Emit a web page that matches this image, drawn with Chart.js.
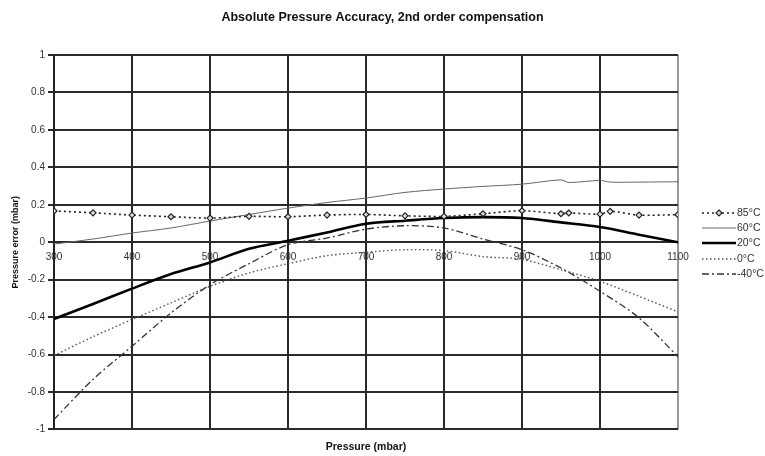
<!DOCTYPE html>
<html>
<head>
<meta charset="utf-8">
<script src="https://cdn.jsdelivr.net/npm/chart.js@4.4.1/dist/chart.umd.min.js"></script>
<style>
	html, body { margin: 0; padding: 0; background: #fff; }
</style>
</head>
<body>
<canvas id="mycanvas" width="765" height="456"></canvas>
<script>
// pressure points (mbar)
var pressure85 = [300, 350, 400, 450, 500, 550, 600, 650, 700, 750, 800, 850, 900, 950, 960, 1000, 1013, 1050, 1100];
var pressure = [300, 350, 400, 450, 500, 550, 600, 650, 700, 750, 800, 850, 900, 950, 1000, 1050, 1100];

// pressure error (mbar) per temperature
var err85 = [0.167, 0.157, 0.145, 0.136, 0.129, 0.138, 0.136, 0.145, 0.148, 0.141, 0.138, 0.152, 0.168, 0.152, 0.156, 0.150, 0.165, 0.145, 0.147];
var err60 = [-0.01, 0.017, 0.049, 0.076, 0.113, 0.148, 0.182, 0.212, 0.236, 0.266, 0.284, 0.298, 0.31, 0.333, 0.319, 0.33, 0.321, 0.321, 0.323];
var err20 = [-0.41, -0.33, -0.248, -0.17, -0.108, -0.035, 0.008, 0.052, 0.099, 0.115, 0.129, 0.134, 0.129, 0.106, 0.081, 0.04, 0.0];
var err0 = [-0.605, -0.505, -0.413, -0.324, -0.236, -0.164, -0.115, -0.072, -0.054, -0.04, -0.045, -0.077, -0.092, -0.147, -0.209, -0.289, -0.372];
var errM40 = [-0.947, -0.733, -0.556, -0.378, -0.227, -0.115, -0.013, 0.022, 0.07, 0.088, 0.076, 0.017, -0.04, -0.138, -0.262, -0.404, -0.612];

var labels = ['85°C', '60°C', '20°C', '0°C', '-40°C'];

function toPoints(xs, ys) {
	var pts = [];
	for (var i in xs) {
		pts.push({x: xs[i], y: ys[i]});
	}
	return pts;
}

var font = '"Liberation Sans", Arial, sans-serif';

// legend drawn at the right, using each dataset's own line style
var sideLegend = {
	id: 'sideLegend',
	afterDraw: function(chart) {
		var ctx = chart.ctx;
		var rows = [213, 228, 243, 259, 274];
		chart.data.datasets.forEach(function(ds, i) {
			var y = rows[i];
			ctx.save();
			ctx.strokeStyle = ds.borderColor;
			ctx.lineWidth = ds.borderWidth;
			ctx.setLineDash(ds.borderDash || []);
			ctx.beginPath();
			ctx.moveTo(702, y);
			ctx.lineTo(736, y);
			ctx.stroke();
			if (ds.pointRadius > 0) {
				var r = ds.pointRadius;
				ctx.setLineDash([]);
				ctx.fillStyle = ds.pointBackgroundColor;
				ctx.lineWidth = ds.pointBorderWidth;
				ctx.beginPath();
				ctx.moveTo(719, y - r);
				ctx.lineTo(719 + r, y);
				ctx.lineTo(719, y + r);
				ctx.lineTo(719 - r, y);
				ctx.closePath();
				ctx.fill();
				ctx.stroke();
			}
			ctx.fillStyle = '#333';
			ctx.font = '10.5px ' + font;
			ctx.textBaseline = 'middle';
			ctx.fillText(ds.label, 737, y);
			ctx.restore();
		});
	}
};

var chartdata = {
	datasets: [
		{
			label: labels[0],
			data: toPoints(pressure85, err85),
			borderColor: '#222',
			borderWidth: 1.6,
			borderDash: [2, 3],
			pointStyle: 'rectRot',
			pointRadius: 3,
			pointBorderWidth: 1.2,
			pointBorderColor: '#222',
			pointBackgroundColor: '#ddd',
			tension: 0.3
		},
		{
			label: labels[1],
			data: toPoints(pressure85, err60),
			borderColor: '#666',
			borderWidth: 1,
			pointRadius: 0,
			tension: 0.3
		},
		{
			label: labels[2],
			data: toPoints(pressure, err20),
			borderColor: '#000',
			borderWidth: 2.6,
			pointRadius: 0,
			tension: 0.3
		},
		{
			label: labels[3],
			data: toPoints(pressure, err0),
			borderColor: '#555',
			borderWidth: 1.4,
			borderDash: [1.5, 2.5],
			pointRadius: 0,
			tension: 0.3
		},
		{
			label: labels[4],
			data: toPoints(pressure, errM40),
			borderColor: '#333',
			borderWidth: 1.3,
			borderDash: [7, 3, 2, 3],
			pointRadius: 0,
			tension: 0.3
		}
	]
};

var ctx = document.getElementById('mycanvas');

var lineGraph = new Chart(ctx, {
	type: 'line',
	data: chartdata,
	plugins: [sideLegend],
	options: {
		responsive: false,
		animation: false,
		layout: { padding: { left: 0, right: 0, top: 0, bottom: 3 } },
		plugins: {
			legend: { display: false },
			tooltip: { enabled: false },
			title: {
				display: true,
				text: 'Absolute Pressure Accuracy, 2nd order compensation',
				color: '#111',
				font: { family: font, size: 12.5, weight: 'bold' },
				padding: { top: 10, bottom: 30 }
			}
		},
		scales: {
			x: {
				type: 'linear',
				position: { y: 0 },
				min: 300,
				max: 1100,
				ticks: {
					stepSize: 100,
					color: '#333',
					padding: 9,
					font: { family: font, size: 10 },
					callback: function(v) { return String(v); }
				},
				grid: {
					color: function(c) { return c.tick && c.tick.value === 1100 ? '#999' : '#2a2a2a'; },
					lineWidth: 2,
					drawTicks: false
				},
				border: { display: false }
			},
			xt: {
				type: 'linear',
				position: 'bottom',
				min: 300,
				max: 1100,
				ticks: { display: false },
				grid: { display: false, drawTicks: false },
				border: { display: false },
				title: {
					display: true,
					text: 'Pressure (mbar)',
					color: '#111',
					font: { family: font, size: 10.5, weight: 'bold' },
					padding: { top: 11, bottom: 0 }
				}
			},
			y: {
				min: -1,
				max: 1,
				afterFit: function(scale) { scale.width = 54; },
				ticks: {
					stepSize: 0.2,
					color: '#333',
					padding: 3,
					font: { family: font, size: 10 },
					callback: function(v) { return String(Math.round(v * 10) / 10); }
				},
				grid: {
					color: '#2a2a2a',
					lineWidth: 2,
					tickLength: 6
				},
				border: { color: '#222', width: 2 },
				title: {
					display: true,
					text: 'Pressure error (mbar)',
					color: '#111',
					font: { family: font, size: 9, weight: 'bold' },
					padding: { top: 10.6, bottom: 0 }
				}
			},
			// empty right-hand space that holds the legend
			yr: {
				position: 'right',
				min: -1,
				max: 1,
				afterFit: function(scale) { scale.width = 87; },
				ticks: { display: false },
				grid: { display: false, drawTicks: false },
				border: { display: false }
			}
		}
	}
});
</script>
</body>
</html>
